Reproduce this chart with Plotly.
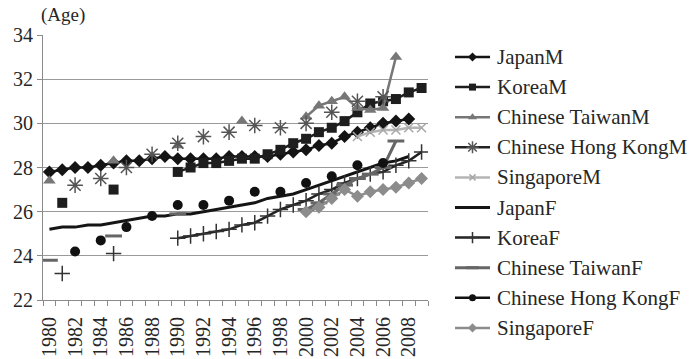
import plotly.graph_objects as go

years = list(range(1980, 2010))
tick_years = list(range(1980, 2010, 2))
tick_text = [str(y) for y in tick_years]

N = None
japan_m = [27.8, 27.9, 28.0, 28.0, 28.1, 28.2, 28.3, 28.3, 28.4, 28.5,
           28.4, 28.4, 28.4, 28.4, 28.5, 28.5, 28.5, 28.5, 28.6, 28.7,
           28.8, 29.0, 29.1, 29.4, 29.6, 29.8, 30.0, 30.1, 30.2, N]
korea_m = [N, 26.4, N, N, N, 27.0, N, N, N, N,
           27.8, 28.0, 28.2, 28.2, 28.3, 28.4, 28.4, 28.6, 28.8, 29.1,
           29.3, 29.6, 29.8, 30.1, 30.5, 30.9, 31.0, 31.1, 31.4, 31.6]
taiwan_m = [27.4, N, N, N, N, 28.3, N, N, N, N,
            29.0, N, N, N, N, 30.1, N, N, N, N,
            30.3, 30.8, 31.0, 31.2, 30.7, 30.6, 30.7, 33.0, N, N]
hongkong_m = [N, N, 27.2, N, 27.5, N, 28.0, N, 28.6, N,
              29.1, N, 29.4, N, 29.6, N, 29.9, N, 29.8, N,
              30.0, N, 30.5, N, 31.0, N, 31.2, N, N, N]
singapore_m = [N, N, N, N, N, N, N, N, N, N,
               N, N, N, N, N, N, N, N, N, N,
               N, N, N, N, 29.4, 29.6, 29.7, 29.7, 29.8, 29.8]
japan_f = [25.2, 25.3, 25.3, 25.4, 25.4, 25.5, 25.6, 25.7, 25.8, 25.8,
           25.9, 25.9, 26.0, 26.1, 26.2, 26.3, 26.4, 26.6, 26.7, 26.8,
           27.0, 27.2, 27.4, 27.6, 27.8, 28.0, 28.2, 28.3, 28.5, N]
korea_f = [N, 23.2, N, N, N, 24.1, N, N, N, N,
           24.8, 24.9, 25.0, 25.1, 25.2, 25.4, 25.5, 25.8, 26.1, 26.3,
           26.5, 26.8, 27.0, 27.3, 27.5, 27.7, 27.8, 28.1, 28.3, 28.7]
taiwan_f = [23.8, N, N, N, N, 24.9, N, N, N, N,
            25.9, N, N, N, N, N, N, N, N, N,
            26.1, 26.4, 26.8, 27.2, 27.5, 27.7, 28.0, 29.2, N, N]
hongkong_f = [N, N, 24.2, N, 24.7, N, 25.3, N, 25.8, N,
              26.3, N, 26.3, N, 26.5, N, 26.9, N, 26.9, N,
              27.3, N, 27.6, N, 28.1, N, 28.2, N, N, N]
singapore_f = [N, N, N, N, N, N, N, N, N, N,
               N, N, N, N, N, N, N, N, N, N,
               26.0, 26.2, 26.6, 27.0, 26.7, 26.9, 27.0, 27.1, 27.3, 27.5]

series = [
    ("JapanM", japan_m, dict(color="#141414", width=2.5), dict(symbol="diamond", size=10, color="#141414")),
    ("KoreaM", korea_m, dict(color="#1e1e1e", width=2.5), dict(symbol="square", size=10, color="#1e1e1e")),
    ("Chinese TaiwanM", taiwan_m, dict(color="#777777", width=2.5), dict(symbol="triangle-up", size=11, color="#777777")),
    ("Chinese Hong KongM", hongkong_m, dict(color="#222222", width=2.5),
     dict(symbol="asterisk-open", size=13, color="#555555", line=dict(color="#555555", width=1.5))),
    ("SingaporeM", singapore_m, dict(color="#b4b4b4", width=2.5),
     dict(symbol="x-thin-open", size=9, color="#a8a8a8", line=dict(color="#a8a8a8", width=1.5))),
    ("JapanF", japan_f, dict(color="#151515", width=3), None),
    ("KoreaF", korea_f, dict(color="#222222", width=2.5),
     dict(symbol="cross-thin-open", size=11, color="#333333", line=dict(color="#333333", width=1.5))),
    ("Chinese TaiwanF", taiwan_f, dict(color="#666666", width=3),
     dict(symbol="line-ew-open", size=12, color="#666666", line=dict(color="#666666", width=3))),
    ("Chinese Hong KongF", hongkong_f, dict(color="#111111", width=2.5), dict(symbol="circle", size=10, color="#111111")),
    ("SingaporeF", singapore_f, dict(color="#8c8c8c", width=2.5), dict(symbol="diamond", size=10, color="#8c8c8c")),
]

W, H = 691, 359
# plot box in pixels (left, right, top, bottom)
PL, PR, PT, PB = 43, 428, 35, 300
serif = "Liberation Serif"
txt = "#262626"

fig = go.Figure()
for name, vals, line, marker in series:
    kw = dict(x=years, y=vals, name=name, line=line, connectgaps=False,
              showlegend=False, xaxis="x", yaxis="y")
    if marker is None:
        kw["mode"] = "lines"
    else:
        kw["mode"] = "lines+markers"
        kw["marker"] = marker
    fig.add_trace(go.Scatter(**kw))

# legend drawn on a pixel-space overlay axis pair
LEG_X0, LEG_X1, LEG_TXT = 455, 490, 495
LEG_Y0, LEG_DY = 57, 30.1
annotations = []
for i, (name, vals, line, marker) in enumerate(series):
    yy = LEG_Y0 + i * LEG_DY
    fig.add_trace(go.Scatter(x=[LEG_X0, LEG_X1], y=[yy, yy], mode="lines", line=line,
                             showlegend=False, hoverinfo="skip", xaxis="x2", yaxis="y2"))
    if marker is not None:
        m = dict(marker)
        m["size"] = max(6, m["size"] - 3)
        fig.add_trace(go.Scatter(x=[(LEG_X0 + LEG_X1) / 2], y=[yy], mode="markers", marker=m,
                                 showlegend=False, hoverinfo="skip", xaxis="x2", yaxis="y2"))
    annotations.append(dict(text=name, x=LEG_TXT / W, y=1 - yy / H, xref="paper", yref="paper",
                            xanchor="left", yanchor="middle", showarrow=False,
                            font=dict(family=serif, size=21, color=txt)))

annotations.append(dict(text="(Age)", xref="paper", yref="paper", x=39 / W, y=1 - 15 / H,
                        xanchor="left", yanchor="middle", showarrow=False,
                        font=dict(family=serif, size=19, color=txt)))

fig.update_layout(
    template="none",
    width=W, height=H,
    margin=dict(l=0, r=0, t=0, b=0, autoexpand=False),
    paper_bgcolor="white", plot_bgcolor="rgba(0,0,0,0)",
    font=dict(family=serif, size=20, color=txt),
    showlegend=False,
    xaxis=dict(domain=[PL / W, PR / W], anchor="y", automargin=False,
               range=[1979.5, 2009.5], tickmode="array", tickvals=tick_years,
               ticktext=tick_text, tickangle=-90, ticks="", showgrid=False,
               showline=True, linecolor="#8a8a8a", linewidth=1.2, zeroline=False,
               ticklabelstandoff=8,
               tickfont=dict(family=serif, size=20, color=txt),
               minor=dict(ticks="outside", ticklen=5, tick0=1979.5, dtick=1,
                          tickcolor="#8a8a8a", showgrid=False)),
    yaxis=dict(domain=[1 - PB / H, 1 - PT / H], anchor="x", automargin=False,
               range=[22, 34], dtick=2, tick0=22, ticks="outside", ticklen=5,
               tickcolor="#8a8a8a", showgrid=True, gridcolor="#9a9a9a", gridwidth=1,
               showline=True, linecolor="#8a8a8a", linewidth=1.2, zeroline=False,
               tickfont=dict(family=serif, size=20, color=txt)),
    xaxis2=dict(domain=[0, 1], anchor="y2", range=[0, W], visible=False,
                fixedrange=True, automargin=False),
    yaxis2=dict(domain=[0, 1], anchor="x2", range=[H, 0], visible=False,
                fixedrange=True, automargin=False),
    annotations=annotations,
)

fig.write_html("out.html")
